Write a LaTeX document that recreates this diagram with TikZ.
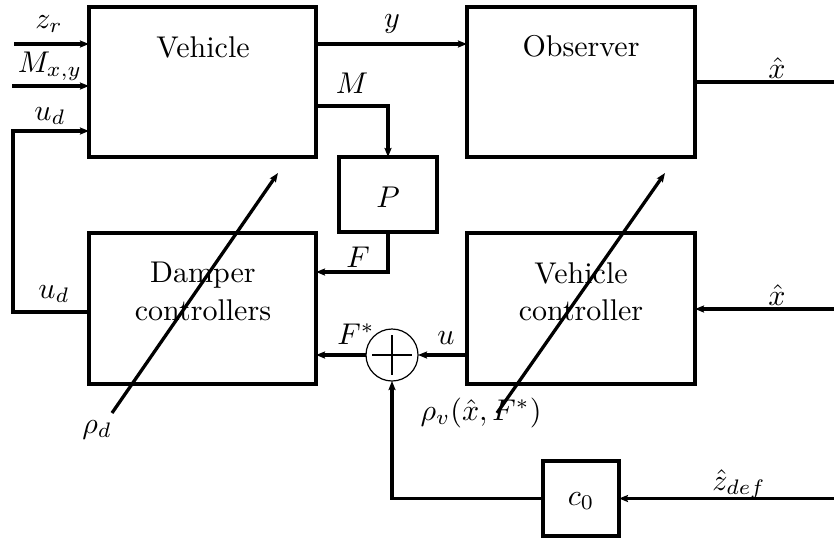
\documentclass[tikz,border=0pt]{standalone}
\usepackage{fontspec}
\usetikzlibrary{arrows.meta,calc}
\begin{document}
\begin{tikzpicture}[x=1pt,y=-1pt,
  every node/.style={inner sep=0pt, outer sep=0pt},
  blk/.style={draw, line width=3.3pt, minimum width=#1},
  conn/.style={line width=3.3pt},
  arr/.style={line width=3.3pt, -{Stealth[length=9pt,width=7pt,inset=1.5pt]}},
  lbl/.style={anchor=base, scale=3, font=\fontsize{10}{12}\selectfont}
]
\useasboundingbox (0,0) rectangle (834,539);
% boxes
\node[blk=227pt, minimum height=150pt] (veh) at (202.5,82) {};
\node[blk=228pt, minimum height=150pt] (obs) at (581,82) {};
\node[blk=98pt, minimum height=75pt] (P) at (388,194.5) {};
\node[blk=227pt, minimum height=151pt] (damp) at (202.5,308.5) {};
\node[blk=228pt, minimum height=151pt] (vc) at (581,308.5) {};
\node[blk=76pt, minimum height=75pt] (c0) at (581,498.5) {};
\node[draw, circle, line width=1.2pt, minimum size=52pt] (sum) at (392,355) {};
\draw[line width=2pt] ($(sum.center)+(-20,0)$) -- ($(sum.center)+(20,0)$);
\draw[line width=2pt] ($(sum.center)+(0,-20)$) -- ($(sum.center)+(0,20)$);
% box texts
\node[lbl] (tveh) at (203,57) {Vehicle};
\node[lbl] (tobs) at (581,56) {Observer};
\node[lbl] (tP) at (388,207) {$P$};
\node[lbl] (td1) at (203,282) {Damper};
\node[lbl] (td2) at (203,320) {controllers};
\node[lbl] (tv1) at (581,283) {Vehicle};
\node[lbl] (tv2) at (581,320) {controller};
\node[lbl] (tc0) at (581,505) {$c_0$};
% coordinates
\coordinate (zr) at (14,44);
\coordinate (mxy) at (12,86);
\coordinate (udin) at (13,131);
\coordinate (udc) at (13,312);
\coordinate (ry) at (0,44);
\coordinate (rm) at (0,106);
\coordinate (rf) at (0,272);
\coordinate (xout) at (834,82);
\coordinate (xin) at (834,309);
\coordinate (zin) at (834,498.5);
\coordinate (rd0) at (112,413);
\coordinate (rd1) at (278,173);
\coordinate (rv0) at (497,413);
\coordinate (rv1) at (665,173);
% connectors
\draw[arr] (zr) -- (zr -| veh.west);
\draw[arr] (mxy) -- (mxy -| veh.west);
\draw[arr] (damp.west |- udc) -- (udc) -- (udin) -- (udin -| veh.west);
\draw[arr] (veh.east |- ry) -- (obs.west |- ry);
\draw[arr] (veh.east |- rm) -| (P.north);
\draw[arr] (P.south) |- (damp.east |- rf);
\draw[conn] (obs.east |- xout) -- (xout);
\draw[arr] (xin) -- (vc.east |- xin);
\draw[arr] (vc.west |- sum) -- (sum.east);
\draw[arr] (sum.west) -- (damp.east |- sum);
\draw[arr] (c0.west) -| (sum.south);
\draw[arr] (zin) -- (c0.east);
\draw[arr] (rd0) -- (rd1);
\draw[arr] (rv0) -- (rv1);
% signal labels
\node[lbl] (lzr) at (49,28) {$z_r$};
\node[lbl] (lmxy) at (50,72) {$M_{x,y}$};
\node[lbl] (lud1) at (50,120) {$u_d$};
\node[lbl] (ly) at (392,27) {$y$};
\node[lbl] (lm) at (352,93) {$M$};
\node[lbl] (lx1) at (777,78) {$\hat{x}$};
\node[lbl] (lx2) at (777,305) {$\hat{x}$};
\node[lbl] (lud2) at (54,298) {$u_d$};
\node[lbl] (lf) at (358,267) {$F$};
\node[lbl] (lfs) at (356,344) {$F^{*}$};
\node[lbl] (lu) at (446,344) {$u$};
\node[lbl] (lrd) at (97,433) {$\rho_d$};
\node[lbl] (lrv) at (481,420) {$\rho_v(\hat{x},F^{*})$};
\node[lbl] (lz) at (739,490) {$\hat{z}_{def}$};
\end{tikzpicture}
\end{document}
